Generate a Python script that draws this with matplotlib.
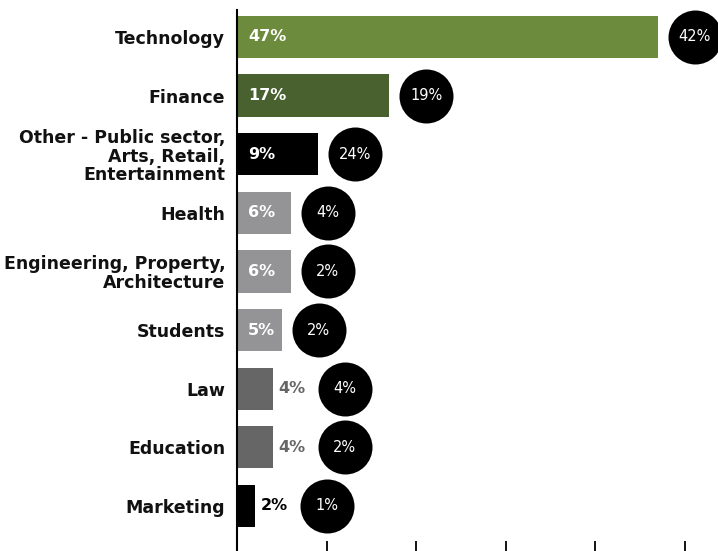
import matplotlib
matplotlib.use("Agg")
import matplotlib.pyplot as plt

# Sector breakdown: bar share and comparison share (circle)
categories = [
    "Technology",
    "Finance",
    "Other - Public sector,\nArts, Retail,\nEntertainment",
    "Health",
    "Engineering, Property,\nArchitecture",
    "Students",
    "Law",
    "Education",
    "Marketing",
]
bar_values = [47, 17, 9, 6, 6, 5, 4, 4, 2]
circle_values = [42, 19, 24, 4, 2, 2, 4, 2, 1]
bar_colors = [
    "#6d8b3d", "#48612f", "#000000",
    "#949497", "#949497", "#949497",
    "#666666", "#666666", "#000000",
]
x_ticks = [0, 10, 20, 30, 40, 50]

fig = plt.figure(figsize=(7.18, 5.51), dpi=100)
ax = fig.add_axes([237 / 718, 0.0, 1 - 237 / 718, 541 / 551])

y = list(range(len(categories)))
ax.barh(y, bar_values, height=0.72, color=bar_colors, zorder=2)

ax.set_xlim(0, 53.7)
ax.set_ylim(8.77, -0.46)

# Value labels inside the bars
value_texts = []
for yi, v in zip(y, bar_values):
    t = ax.annotate(f"{v}%", xy=(0, yi), xytext=(8, 0), textcoords="offset points",
                    ha="left", va="center", color="white", fontsize=11.5,
                    fontweight="bold", zorder=4)
    value_texts.append(t)

# Category labels
ax.set_yticks(y)
ax.set_yticklabels(categories, fontsize=12.5, fontweight="bold",
                   multialignment="right", linespacing=1.05)
ax.tick_params(axis="y", length=0, pad=8.5, colors="#111111")

ax.set_xticks(x_ticks)
ax.set_xticklabels([])
ax.tick_params(axis="x", direction="in", length=7.5, width=1.3, color="black")

for side in ("top", "right", "bottom"):
    ax.spines[side].set_visible(False)
ax.spines["left"].set_linewidth(1.5)
ax.spines["left"].set_zorder(5)

fig.canvas.draw()
renderer = fig.canvas.get_renderer()

# Labels that do not fit inside a short bar move just outside it
for yi, v, t, col in zip(y, bar_values, value_texts, bar_colors):
    bar_end_px = ax.transData.transform((v, yi))[0]
    if t.get_window_extent(renderer).x1 + 4 > bar_end_px:
        t.xy = (v, yi)
        t.set_position((4, 0))
        t.set_color(col)

fig.canvas.draw()

# Black circles placed just past the bar end (or past its label when the
# label sits outside the bar)
radius_px = 27
gap_px = 10
to_data = ax.transData.inverted()
for yi, v, c, t in zip(y, bar_values, circle_values, value_texts):
    bar_end_px, cy_px = ax.transData.transform((v, yi))
    label_end_px = t.get_window_extent(renderer).x1 + 2
    left_px = max(bar_end_px, label_end_px) + gap_px
    cx = to_data.transform((left_px + radius_px, cy_px))[0]
    ax.plot([cx], [yi], marker="o", markersize=2 * radius_px * 72 / fig.dpi,
            color="black", markeredgewidth=0, clip_on=False, zorder=3)
    ax.text(cx, yi, f"{c}%", ha="center", va="center", color="white",
            fontsize=10.5, zorder=4, clip_on=False)

fig.savefig("out.png", dpi=100)
